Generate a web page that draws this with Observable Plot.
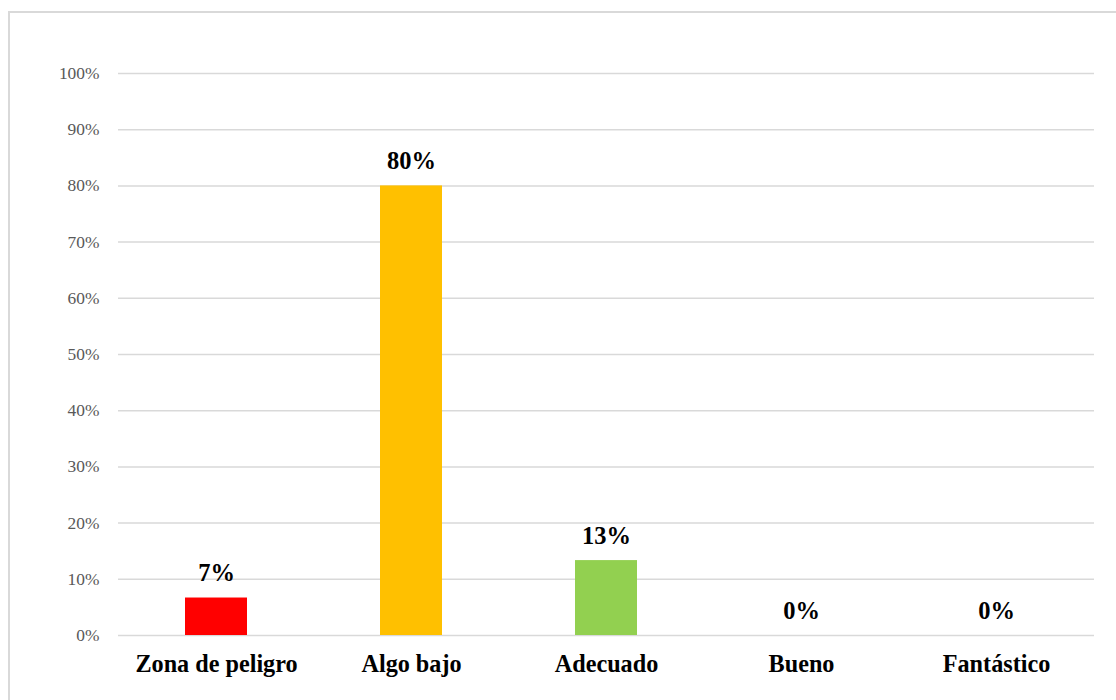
<!DOCTYPE html>
<html>
<head>
<meta charset="utf-8">
<script src="https://cdn.jsdelivr.net/npm/d3@7"></script>
<script src="https://cdn.jsdelivr.net/npm/@observablehq/plot@0.6"></script>
<style>
  html, body { margin: 0; padding: 0; background: #fff; overflow: hidden; }
  #wrap { position: relative; width: 1116px; height: 700px; }
  #frame { position: absolute; left: 8px; top: 11px; width: 1120px; height: 720px;
           border-left: 2px solid #d9d9d9; border-top: 2px solid #d9d9d9; box-sizing: border-box; }
  #chart { position: absolute; left: 0; top: 0; }
</style>
</head>
<body>
<div id="wrap"><div id="frame"></div><div id="chart"></div></div>
<script>
const categories = ["Zona de peligro", "Algo bajo", "Adecuado", "Bueno", "Fantástico"];
const values = [6.67, 80, 13.33, 0, 0];
const labels = ["7%", "80%", "13%", "0%", "0%"];
const colors = ["#ff0000", "#ffc000", "#92d050", "#5b9bd5", "#70ad47"];
const yTicks = [0, 10, 20, 30, 40, 50, 60, 70, 80, 90, 100];

const data = categories.map((c, i) => ({cat: c, value: values[i], label: labels[i], color: colors[i]}));
const serif = '"Liberation Serif", "Times New Roman", serif';

const chart = Plot.plot({
  width: 1116,
  height: 700,
  marginLeft: 118,
  marginRight: 22,
  marginTop: 73,
  marginBottom: 65,
  style: { fontFamily: serif, background: "transparent", overflow: "visible" },
  x: { domain: categories, paddingInner: 0.68, paddingOuter: 0.34, label: null },
  y: { domain: [0, 100], label: null },
  marks: [
    Plot.gridY(yTicks, { stroke: "#d9d9d9", strokeOpacity: 1, strokeWidth: 1.5 }),
    Plot.barY(data, { x: "cat", y: "value", fill: "color" }),
    Plot.text(data, { x: "cat", y: "value", text: "label", lineAnchor: "bottom", dy: -17,
                      fontSize: 24.5, fontWeight: "bold", fill: "black" }),
    Plot.axisY(yTicks, { tickSize: 0, tickPadding: 19, tickFormat: d => d + "%",
                         fontSize: 17.4, fill: "#595959", label: null }),
    Plot.axisX({ tickSize: 0, tickPadding: 19, fontSize: 24.2, fontWeight: "bold",
                 fill: "black", label: null })
  ]
});
document.getElementById("chart").appendChild(chart);
</script>
</body>
</html>
